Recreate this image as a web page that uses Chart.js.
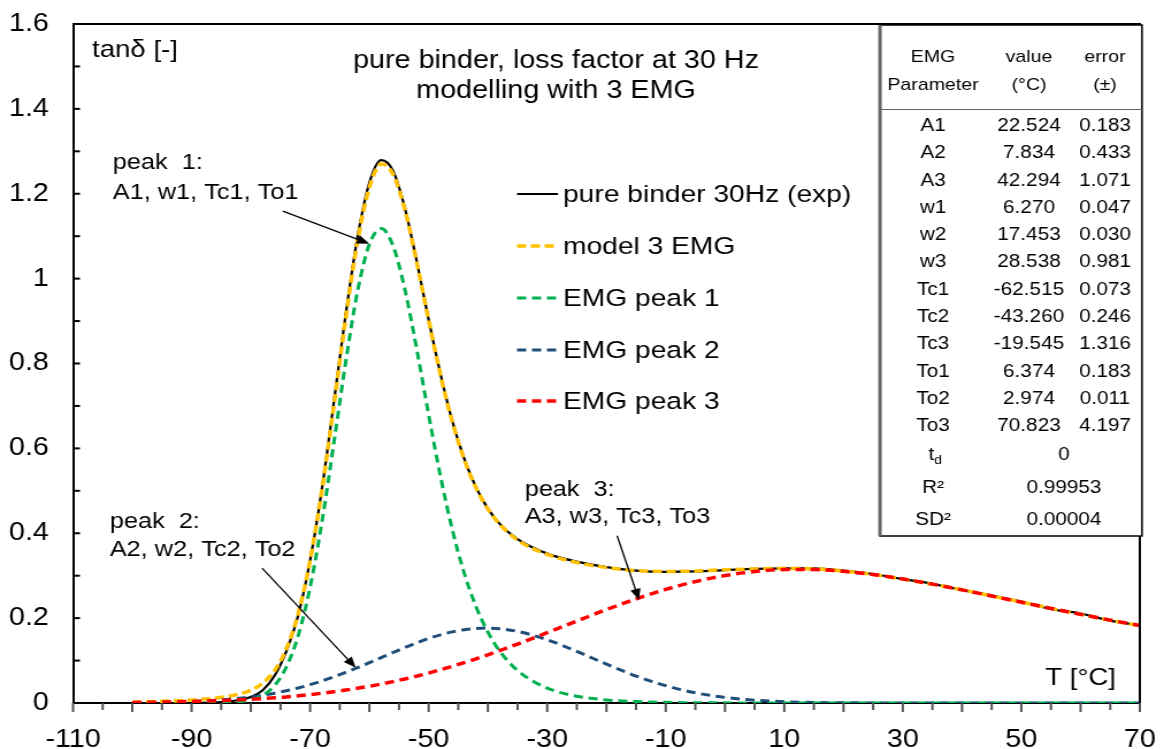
<!DOCTYPE html>
<html>
<head>
<meta charset="utf-8">
<script src="https://cdn.jsdelivr.net/npm/chart.js@4.4.1/dist/chart.umd.min.js"></script>
<style>
  html, body { margin: 0; padding: 0; background: #fff; }
</style>
</head>
<body>
<canvas id="chartTan" width="1012" height="749" style="display:block;width:1164px;height:749px"></canvas>
<script>
const temps = [-100, -95, -90, -85, -82, -80, -78, -76, -74, -72, -70, -68, -66, -64, -62, -60, -58, -56, -54, -52,
    -50, -48, -46, -44, -42, -40, -38, -35, -30, -25, -20, -15, -10, -5, 0, 5, 10, 15, 20, 25, 30, 35, 40, 45, 50,
    55, 60, 65, 70];

// tan delta values
const expBinder = [null, null, 0.000, 0.002, 0.007, 0.014, 0.030, 0.064, 0.122, 0.207, 0.336, 0.505, 0.708, 0.915,
    1.098, 1.226, 1.279, 1.254, 1.166, 1.040, 0.903, 0.775, 0.664, 0.576, 0.508, 0.458, 0.422, 0.386, 0.352, 0.333,
    0.320, 0.312, 0.309, 0.310, 0.313, 0.316, 0.317, 0.317, 0.312, 0.304, 0.292, 0.281, 0.266, 0.253, 0.239, 0.221,
    0.211, 0.194, 0.183];
const model3 = [0.002, 0.004, 0.007, 0.0135, 0.021, 0.030, 0.047, 0.076, 0.128, 0.211, 0.336, 0.502, 0.700, 0.906,
    1.088, 1.215, 1.270, 1.246, 1.162, 1.038, 0.902, 0.773, 0.662, 0.574, 0.507, 0.457, 0.421, 0.384, 0.350, 0.331,
    0.319, 0.312, 0.310, 0.311, 0.314, 0.316, 0.317, 0.316, 0.311, 0.303, 0.292, 0.280, 0.267, 0.252, 0.238, 0.223,
    0.209, 0.195, 0.182];
const peak1 = [0, 0, 0, 0.0005, 0.0026, 0.0072, 0.018, 0.041, 0.085, 0.159, 0.273, 0.427, 0.612, 0.803, 0.970,
    1.081, 1.118, 1.077, 0.974, 0.833, 0.679, 0.534, 0.408, 0.306, 0.227, 0.167, 0.122, 0.0765, 0.035, 0.016, 0.0073,
    0.0033, 0.0015, 0.0007, 0.0003, 0.0001, 0, 0, 0, 0, 0, 0, 0, 0, 0, 0, 0, 0, 0];
const peak2 = [0.0006, 0.0015, 0.0034, 0.0073, 0.011, 0.0143, 0.0183, 0.0231, 0.0289, 0.0355, 0.0432, 0.0519,
    0.0616, 0.072, 0.0833, 0.095, 0.107, 0.119, 0.131, 0.142, 0.152, 0.1606, 0.1676, 0.1727, 0.1757, 0.1765, 0.175,
    0.1688, 0.149, 0.1216, 0.0915, 0.0636, 0.0408, 0.0241, 0.0132, 0.0067, 0.0031, 0.0013, 0.0005, 0.0002, 0, 0, 0,
    0, 0, 0, 0, 0, 0];
const peak3 = [0.0013, 0.0022, 0.0036, 0.0057, 0.0075, 0.0089, 0.0104, 0.0123, 0.0142, 0.0169, 0.0198, 0.0231,
    0.0266, 0.0305, 0.0348, 0.0394, 0.0447, 0.0504, 0.0567, 0.0634, 0.0705, 0.0786, 0.0866, 0.0951, 0.1042, 0.1136,
    0.1236, 0.1389, 0.1657, 0.1932, 0.2201, 0.2452, 0.2676, 0.2861, 0.3003, 0.3097, 0.3143, 0.3143, 0.3102, 0.3027,
    0.2924, 0.2801, 0.2665, 0.2522, 0.2375, 0.223, 0.2089, 0.1953, 0.1824];

const seriesNames = ["pure binder 30Hz (exp)", "model 3 EMG", "EMG peak 1", "EMG peak 2", "EMG peak 3"];

const xTickLabels = ["-110", "-90", "-70", "-50", "-30", "-10", "10", "30", "50", "70"];
const yTickLabels = ["0", "0.2", "0.4", "0.6", "0.8", "1", "1.2", "1.4", "1.6"];

// fit parameters shown in the table
const tableParams = ["A1", "A2", "A3", "w1", "w2", "w3", "Tc1", "Tc2", "Tc3", "To1", "To2", "To3"];
const tableValues = ["22.524", "7.834", "42.294", "6.270", "17.453", "28.538", "-62.515", "-43.260", "-19.545",
    "6.374", "2.974", "70.823"];
const tableErrors = ["0.183", "0.433", "1.071", "0.047", "0.030", "0.981", "0.073", "0.246", "1.316", "0.183",
    "0.011", "4.197"];
const tdValue = "0";
const r2Value = "0.99953";
const sd2Value = "0.00004";

// callouts (data units)
const callouts = [
    { lines: ["peak  1:", "A1, w1, Tc1, To1"], x: -103.3, y: [1.272, 1.203], from: [-74.6, 1.159], to: [-60.0, 1.082] },
    { lines: ["peak  2:", "A2, w2, Tc2, To2"], x: -103.8, y: [0.427, 0.361], from: [-78.1, 0.318], to: [-62.3, 0.083] },
    { lines: ["peak  3:", "A3, w3, Tc3, To3"], x: -33.8, y: [0.503, 0.438], from: [-18.2, 0.394], to: [-14.5, 0.243] },
];

// the reference figure is stretched sideways, so the canvas gets stretched by css
const STRETCH = 1164 / 1012;
const sx = v => v / STRETCH;
const FONT = '"Liberation Sans", Arial, sans-serif';

const toPoints = arr => temps.map((t, i) => ({ x: t, y: arr[i] }));

const frame = {
    id: "frame",
    afterDatasetsDraw(chart) {
        const { ctx, chartArea: a, scales } = chart;
        ctx.save();
        ctx.strokeStyle = "#000";
        ctx.lineWidth = 2;
        ctx.beginPath();
        ctx.moveTo(a.left, a.top);
        ctx.lineTo(a.right, a.top);
        ctx.lineTo(a.right, a.bottom);
        ctx.stroke();

        // small ticks on x (every 5) and y (every 0.1)
        ctx.strokeStyle = "#555";
        ctx.lineWidth = 2;
        for (let t = -110; t <= 70; t += 5) {
            const x = scales.x.getPixelForValue(t);
            ctx.beginPath();
            ctx.moveTo(x, a.bottom);
            ctx.lineTo(x, a.bottom + (t % 10 === 0 ? 9 : 7));
            ctx.stroke();
        }
        ctx.strokeStyle = "#000";
        for (let k = 1; k < 16; k++) {
            const y = scales.y.getPixelForValue(k / 10);
            ctx.beginPath();
            ctx.moveTo(a.left, y);
            ctx.lineTo(a.left + 6, y);
            ctx.stroke();
        }
        ctx.restore();
    }
};

const texts = {
    id: "texts",
    afterDraw(chart) {
        const { ctx, scales } = chart;
        ctx.save();
        ctx.fillStyle = "#000";
        ctx.textBaseline = "middle";

        // title
        ctx.font = "25px " + FONT;
        ctx.textAlign = "center";
        ctx.fillText("pure binder, loss factor at 30 Hz", sx(556), 61);
        ctx.fillText("modelling with 3 EMG", sx(556), 91);

        // axis titles
        ctx.font = "24px " + FONT;
        ctx.textAlign = "left";
        ctx.fillText("tan\u03b4 [-]", sx(92), 50);
        ctx.textAlign = "right";
        ctx.fillText("T [\u00b0C]", sx(1116), 678);

        // legend
        ctx.font = "24.5px " + FONT;
        ctx.textAlign = "left";
        const rows = [194, 246, 298, 350, 401];
        chart.data.datasets.forEach((ds, i) => {
            ctx.save();
            ctx.strokeStyle = ds.borderColor;
            ctx.lineWidth = ds.borderWidth;
            ctx.setLineDash(ds.borderDash || []);
            ctx.beginPath();
            ctx.moveTo(sx(517), rows[i]);
            ctx.lineTo(sx(558), rows[i]);
            ctx.stroke();
            ctx.restore();
            ctx.fillText(ds.label, sx(563), rows[i] + 1);
        });

        // callouts with arrows
        ctx.font = "22px " + FONT;
        callouts.forEach(c => {
            const x = scales.x.getPixelForValue(c.x);
            c.lines.forEach((s, j) => ctx.fillText(s, x, scales.y.getPixelForValue(c.y[j])));
            const x0 = scales.x.getPixelForValue(c.from[0]), y0 = scales.y.getPixelForValue(c.from[1]);
            const x1 = scales.x.getPixelForValue(c.to[0]), y1 = scales.y.getPixelForValue(c.to[1]);
            const ang = Math.atan2(y1 - y0, x1 - x0);
            ctx.strokeStyle = "#000";
            ctx.lineWidth = 1.3;
            ctx.beginPath();
            ctx.moveTo(x0, y0);
            ctx.lineTo(x1 - 8 * Math.cos(ang), y1 - 8 * Math.sin(ang));
            ctx.stroke();
            ctx.beginPath();
            ctx.moveTo(x1, y1);
            ctx.lineTo(x1 - 11 * Math.cos(ang) + 4.5 * Math.sin(ang), y1 - 11 * Math.sin(ang) - 4.5 * Math.cos(ang));
            ctx.lineTo(x1 - 11 * Math.cos(ang) - 4.5 * Math.sin(ang), y1 - 11 * Math.sin(ang) + 4.5 * Math.cos(ang));
            ctx.closePath();
            ctx.fill();
        });

        // parameter table
        const L = sx(880), R = sx(1142), T = 25, B = 536;
        ctx.fillStyle = "#fff";
        ctx.fillRect(L, T, R - L, B - T);
        ctx.strokeStyle = "#000";
        ctx.lineWidth = 1.5;
        ctx.strokeRect(L, T, R - L, B - T);
        ctx.strokeStyle = "#666";
        ctx.lineWidth = 3;
        ctx.beginPath();
        ctx.moveTo(L, T);
        ctx.lineTo(L, B);
        ctx.stroke();
        ctx.lineWidth = 1;
        ctx.beginPath();
        ctx.moveTo(L, 109.5);
        ctx.lineTo(R, 109.5);
        ctx.stroke();

        const c1 = sx(933), c2 = sx(1029), c3 = sx(1105), c23 = sx(1064);
        ctx.fillStyle = "#000";
        ctx.textAlign = "center";
        ctx.font = "17px " + FONT;
        ctx.fillText("EMG", c1, 57);
        ctx.fillText("Parameter", c1, 85);
        ctx.fillText("value", c2, 57);
        ctx.fillText("(\u00b0C)", c2, 85);
        ctx.fillText("error", c3, 57);
        ctx.fillText("(\u00b1)", c3, 85);

        ctx.font = "18px " + FONT;
        tableParams.forEach((p, i) => {
            const y = 126 + i * 27.3;
            ctx.fillText(p, c1, y);
            ctx.fillText(tableValues[i], c2, y);
            ctx.fillText(tableErrors[i], c3, y);
        });
        // t_d
        ctx.textAlign = "right";
        ctx.fillText("t", c1 + 1, 455);
        ctx.textAlign = "left";
        ctx.font = "12px " + FONT;
        ctx.fillText("d", c1 + 1, 461);
        ctx.font = "18px " + FONT;
        ctx.textAlign = "center";
        ctx.fillText(tdValue, c23, 455);
        ctx.fillText("R\u00b2", c1, 488);
        ctx.fillText(r2Value, c23, 488);
        ctx.fillText("SD\u00b2", c1, 520);
        ctx.fillText(sd2Value, c23, 520);
        ctx.restore();
    }
};

const chartTan = new Chart(document.getElementById("chartTan"), {
    type: "line",
    data: {
        datasets: [
            { label: seriesNames[0], data: toPoints(expBinder), borderColor: "#000000", borderWidth: 2.2, order: 5 },
            { label: seriesNames[1], data: toPoints(model3), borderColor: "#FFC000", borderWidth: 3.5, borderDash: [8, 4], order: 4 },
            { label: seriesNames[2], data: toPoints(peak1), borderColor: "#00B050", borderWidth: 3, borderDash: [8, 5], order: 2 },
            { label: seriesNames[3], data: toPoints(peak2), borderColor: "#1F4E79", borderWidth: 3, borderDash: [8, 5], order: 3 },
            { label: seriesNames[4], data: toPoints(peak3), borderColor: "#FF0000", borderWidth: 3.5, borderDash: [8, 5], order: 1 },
        ],
    },
    options: {
        responsive: false,
        animation: false,
        devicePixelRatio: 1,
        layout: { padding: { top: 24, right: 21, left: 0, bottom: 0 } },
        elements: { point: { radius: 0 }, line: { cubicInterpolationMode: "monotone", fill: false } },
        plugins: { legend: { display: false }, tooltip: { enabled: false } },
        scales: {
            x: {
                type: "linear",
                min: -110,
                max: 70,
                grid: { display: false, drawTicks: false },
                border: { display: true, color: "#000", width: 2 },
                ticks: {
                    stepSize: 20,
                    autoSkip: false,
                    maxRotation: 0,
                    padding: 22,
                    color: "#000",
                    font: { family: FONT, size: 25 },
                    callback: (v, i) => xTickLabels[i],
                },
                afterFit: s => { s.height = 46; s.paddingLeft = 0; s.paddingRight = 0; },
            },
            y: {
                min: 0,
                max: 1.6,
                grid: { display: false, drawTicks: false },
                border: { display: true, color: "#000", width: 2 },
                ticks: {
                    stepSize: 0.2,
                    padding: 21,
                    color: "#000",
                    font: { family: FONT, size: 25 },
                    callback: (v, i) => yTickLabels[i],
                },
                afterFit: s => { s.width = 63.5; s.paddingTop = 0; s.paddingBottom = 0; },
            },
        },
    },
    plugins: [frame, texts],
});
</script>
</body>
</html>
